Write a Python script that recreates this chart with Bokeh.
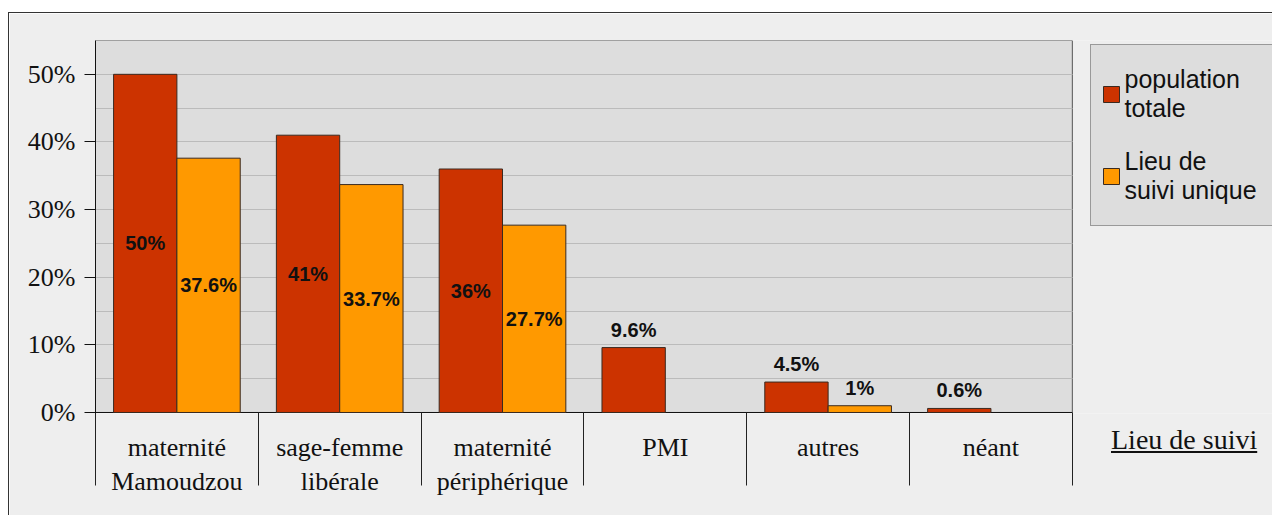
from bokeh.plotting import figure
from bokeh.models import (Range1d, FixedTicker, PrintfTickFormatter, Legend, LegendItem,
                          ColumnDataSource, Grid, Div)
from bokeh.layouts import column
from bokeh.core.properties import value
from bokeh.embed import file_html
from bokeh.resources import INLINE

# ---- data ----
categories = ["maternité\nMamoudzou", "sage-femme\nlibérale", "maternité\npériphérique",
              "PMI", "autres", "néant"]
population_totale = [50, 41, 36, 9.6, 4.5, 0.6]
suivi_unique = [37.6, 33.7, 27.7, None, 1, None]
labels_totale = ["50%", "41%", "36%", "9.6%", "4.5%", "0.6%"]
labels_unique = ["37.6%", "33.7%", "27.7%", "", "1%", ""]
series_names = ["population\ntotale", "Lieu de\nsuivi unique"]
y_ticks = [0, 10, 20, 30, 40, 50]
y_minor = [5, 15, 25, 35, 45, 55]
x_title = "Lieu de suivi"

RED = "#cc3300"
ORANGE = "#ff9900"
SERIF = "Liberation Serif"
SANS = "Liberation Sans"

# ---- layout constants (pixels) ----
FRAME_W, FRAME_H = 1177, 372
CAT_W = 976 / 6                      # pixel width of one category slot
Y_MAX = 55
Y_MIN = -Y_MAX / 371                 # one pixel below the 0% baseline
n = len(categories)
centers = [i + 0.5 for i in range(n)]
bw = 0.389

p = figure(frame_width=FRAME_W, frame_height=FRAME_H,
           x_range=Range1d(0, FRAME_W / CAT_W), y_range=Range1d(Y_MIN, Y_MAX),
           output_backend="svg", toolbar_location=None,
           min_border_left=86, min_border_right=0, min_border_top=27, min_border_bottom=103,
           background_fill_color="#eeeeee", border_fill_color="#eeeeee",
           margin=(12, 0, 0, 8),
           styles={"border-left": "1px solid #333", "border-top": "1px solid #333"})
p.outline_line_color = None

# plot area (grey box spanning the categories) and 0% baseline
p.quad(left=[0], right=[n], bottom=[0], top=[Y_MAX], fill_color="#dddddd",
       line_color="#555555", line_width=1, level="image")
p.segment(x0=[0], x1=[n], y0=[0], y1=[0], line_color="#111111", line_width=1)

# bars
red_src = ColumnDataSource(dict(x=[c - bw / 2 for c in centers], top=population_totale))
r_red = p.vbar(x="x", top="top", width=bw, source=red_src, fill_color=RED,
               line_color="#3a2a20", line_width=1)
ox = [c + bw / 2 for c, v in zip(centers, suivi_unique) if v is not None]
ov = [v for v in suivi_unique if v is not None]
or_src = ColumnDataSource(dict(x=ox, top=ov))
r_or = p.vbar(x="x", top="top", width=bw, source=or_src, fill_color=ORANGE,
              line_color="#3a2a20", line_width=1)

# data labels
inside = dict(x=[], y=[], t=[])
above = dict(x=[], y=[], t=[])
for c, v, t in zip(centers, population_totale, labels_totale):
    d = inside if v >= 20 else above
    d["x"].append(c - bw / 2); d["y"].append(v / 2 if v >= 20 else v); d["t"].append(t)
for c, v, t in zip(centers, suivi_unique, labels_unique):
    if v is None:
        continue
    d = inside if v >= 20 else above
    d["x"].append(c + bw / 2); d["y"].append(v / 2 if v >= 20 else v); d["t"].append(t)
p.text(x="x", y="y", text="t", source=ColumnDataSource(inside), text_align="center",
       text_baseline="middle", text_font=value(SANS), text_font_style="bold",
       text_font_size="20px", text_color="#111111")
p.text(x="x", y="y", text="t", source=ColumnDataSource(above), text_align="center",
       text_baseline="bottom", y_offset=-7, text_font=value(SANS), text_font_style="bold",
       text_font_size="20px", text_color="#111111")

# x axis: category separators and category labels
xa = p.xaxis[0]
xa.ticker = FixedTicker(ticks=centers, minor_ticks=list(range(n + 1)))
xa.major_label_overrides = {c: cat for c, cat in zip(centers, categories)}
xa.major_tick_out = 0
xa.major_tick_in = 0
xa.major_tick_line_color = None
xa.minor_tick_in = 1
xa.minor_tick_out = 72
xa.minor_tick_line_color = "#222222"
xa.axis_line_color = None
xa.major_label_standoff = -53
xa.major_label_text_font = SERIF
xa.major_label_text_font_size = "26px"
xa.major_label_text_color = "#111111"

# y axis
ya = p.yaxis[0]
ya.ticker = FixedTicker(ticks=y_ticks, minor_ticks=y_minor)
ya.formatter = PrintfTickFormatter(format="%d%%")
ya.major_tick_out = 11
ya.major_tick_in = 0
ya.minor_tick_out = 0
ya.minor_tick_in = 0
ya.major_tick_line_color = "#111111"
ya.axis_line_color = "#111111"
ya.major_label_standoff = 9
ya.major_label_text_font = SERIF
ya.major_label_text_font_size = "26px"
ya.major_label_text_color = "#111111"

# grid lines limited to the category area
p.xgrid.visible = False
yg = p.ygrid[0]
if "cross_bounds" in Grid.properties():
    yg.cross_bounds = (0, n)
    yg.grid_line_color = "#bbbbbb"
    yg.minor_grid_line_color = "#bbbbbb"
else:
    yg.visible = False
    gl = sorted(y_ticks[1:] + y_minor)
    p.segment(x0=[0] * len(gl), x1=[n] * len(gl), y0=gl, y1=gl,
              line_color="#bbbbbb", line_width=1, level="underlay")

# series legend
legend = Legend(items=[LegendItem(label=series_names[0], renderers=[r_red]),
                       LegendItem(label=series_names[1], renderers=[r_or])],
                location=(994.5, 187), margin=0, padding=10, spacing=4,
                glyph_width=20, glyph_height=20, label_standoff=4,
                label_height=78, label_width=137,
                label_text_font=SANS, label_text_font_size="25px",
                label_text_line_height=1.35,
                label_text_color="#111111",
                background_fill_color="#dddddd", background_fill_alpha=1,
                border_line_color="#555555")
p.add_layout(legend)

# underlined x title, placed to the right of the category labels
title_div = Div(text="<u>" + x_title + "</u>", width=160, height=34,
                styles={"position": "absolute", "left": "1111px", "top": "424px",
                        "font-family": SERIF, "font-size": "28px", "color": "#111111",
                        "line-height": "32px", "white-space": "nowrap", "margin": "0"})

layout = column(p, title_div)
open("out.html", "w").write(file_html(layout, INLINE))
